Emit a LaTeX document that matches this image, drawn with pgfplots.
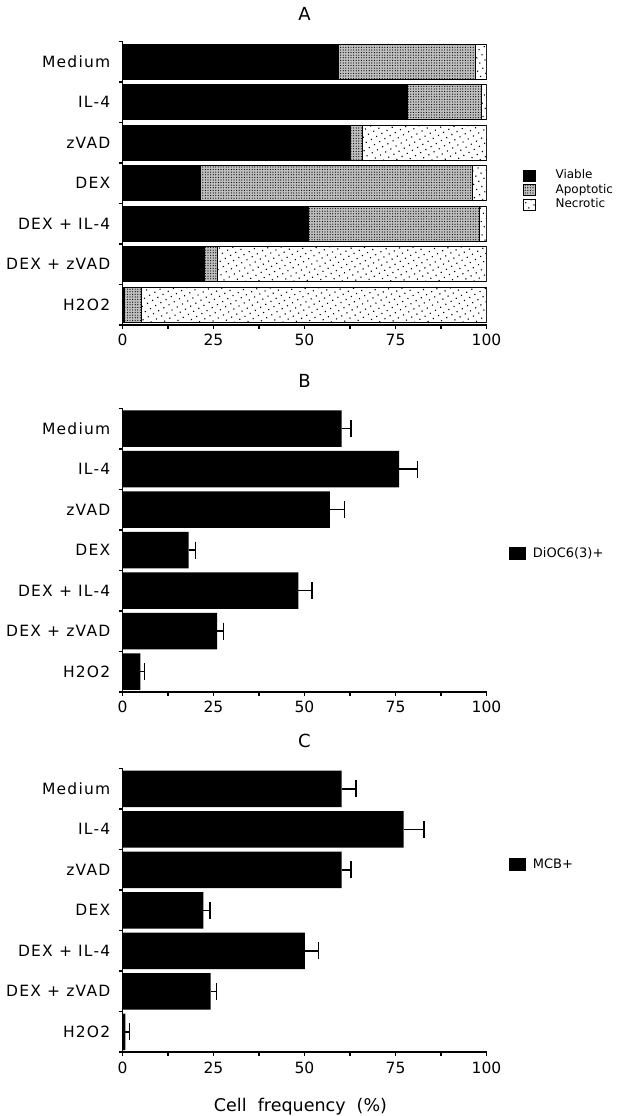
\documentclass[border=0pt]{standalone}
\usepackage{fontspec}
\setmainfont{DejaVu Sans}
\newfontfamily\labfont{DejaVu Sans}[LetterSpace=8]
\usepackage{pgfplots}
\pgfplotsset{compat=1.18}
\usepackage{pgfplotstable}
\usetikzlibrary{patterns.meta}
\newcommand\lfa{\fontsize{12}{14}\selectfont}
\newcommand\lfb{\fontsize{13}{15}\selectfont}

\pgfplotstableread{
cat viable apop necr
1 59.3 37.8 2.9
2 78.2 20.3 1.5
3 62.6 3.4 34.0
4 21.4 74.7 3.9
5 51.2 46.9 1.9
6 22.6 3.4 74.0
7 0.5 4.6 94.9
}\tabA

\pgfplotstableread{
cat val err
1 60.2 2.6
2 76.0 5.0
3 57.0 4.0
4 18.2 1.9
5 48.3 3.7
6 26.0 1.8
7 4.9 1.2
}\tabB

\pgfplotstableread{
cat val err
1 60.2 3.9
2 77.2 5.6
3 60.2 2.6
4 22.2 1.8
5 50.1 3.7
6 24.2 1.6
7 0.8 1.1
}\tabC

\pgfplotsset{
  panel/.style={
    anchor=south west, scale only axis, width=364pt, height=283.5pt,
    xmin=0, xmax=100, ymin=0.5, ymax=7.5, y dir=reverse,
    axis lines*=left,
    axis line style={line width=1.3pt, black},
    xtick={0,25,50,75,100}, minor xtick={12.5,37.5,62.5,87.5},
    ytick={1,...,7},
    yticklabels={Medium,IL-4,zVAD,DEX,DEX + IL-4,DEX + zVAD,H2O2},
    minor ytick={0.5,1.5,...,7.5},
    tick align=outside, major tick length=4pt, minor tick length=4pt,
    tick style={line width=1.3pt, black},
    major y tick style={draw=none},
    /pgf/number format/assume math mode=true,
    xticklabel style={font=\fontsize{15.5}{17}\selectfont, anchor=base, yshift=-17pt},
    yticklabel style={font=\labfont\fontsize{15.5}{17}\selectfont, inner sep=0pt, anchor=east, xshift=-8pt},
    title style={font=\fontsize{18}{20}\selectfont, at={(0.5,1)}, anchor=base, inner sep=0pt},
    legend cell align=left,
  },
  boxleg/.style={legend image code/.code={\draw[##1] (0pt,-6pt) rectangle (16pt,6pt);}},
  ebars/.style={error bars/.cd, x dir=plus, x explicit, error mark=|,
    error bar style={line width=1.5pt, black},
    error mark options={line width=1.5pt, mark size=8.5pt, black}},
}

\begin{document}
\begin{tikzpicture}
\useasboundingbox (0,0) rectangle (617pt,1116pt);

% Panel A
\begin{axis}[panel, at={(122.5pt,791pt)}, title={A}, title style={yshift=15pt},
  xbar stacked, bar width=35pt,
  legend image code/.code={\draw[#1] (0pt,-5.5pt) rectangle (12pt,5.5pt);},
  legend style={at={(1.1,0.553)}, anchor=north west, draw=none, fill=none,
    row sep=0pt, inner sep=0pt,
    nodes={inner sep=1.5pt, text height=9pt, text depth=2.5pt}},
  /tikz/every odd column/.append style={column sep=18pt},
]
\addplot[draw=black, line width=1pt, fill=black] table[x=viable, y=cat]{\tabA};
\addplot[draw=black, line width=1pt, fill=gray!50,
  postaction={pattern={Dots[radius=0.6pt, distance=2.6pt]}, pattern color=black}] table[x=apop, y=cat]{\tabA};
\addplot[draw=black, line width=1pt, fill=white,
  postaction={pattern={Dots[radius=0.8pt, distance=6pt, angle=30]}, pattern color=black}] table[x=necr, y=cat]{\tabA};
\legend{\lfa Viable,\lfa Apoptotic,\lfa Necrotic}
\end{axis}

% Panel B
\begin{axis}[panel, at={(122.5pt,424pt)}, title={B}, title style={yshift=15pt},
  xbar, bar width=36.5pt, boxleg,
  legend style={at={(1.06,0.49)}, anchor=west, draw=none, fill=none, inner sep=0pt},
  /tikz/every odd column/.append style={column sep=6pt},
]
\addplot[draw=none, fill=black, ebars] table[x=val, y=cat, x error=err]{\tabB};
\legend{\lfb DiOC6(3)+}
\end{axis}

% Panel C
\begin{axis}[panel, at={(122.5pt,64pt)}, title={C}, title style={yshift=15pt},
  xbar, bar width=36.5pt, boxleg,
  xlabel={Cell\ \ frequency\ \ (\%)},
  xlabel style={font=\fontsize{17.5}{19}\selectfont, at={(axis description cs:0.5,0)}, anchor=base, yshift=-59pt, xshift=-4pt},
  legend style={at={(1.06,0.663)}, anchor=west, draw=none, fill=none, inner sep=0pt},
  /tikz/every odd column/.append style={column sep=6pt},
]
\addplot[draw=none, fill=black, ebars] table[x=val, y=cat, x error=err]{\tabC};
\legend{\lfb MCB+}
\end{axis}
\end{tikzpicture}
\end{document}
